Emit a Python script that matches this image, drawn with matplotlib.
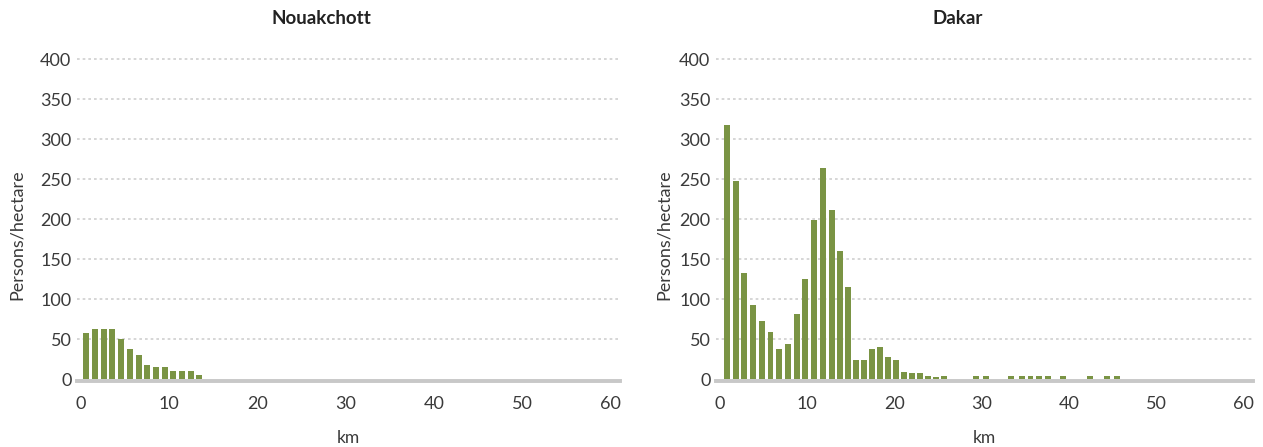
import matplotlib.pyplot as plt

plt.rcParams['font.family'] = ['Lato', 'DejaVu Sans']

# distance from centre (km) and density (persons/hectare)
nouak_km = [0.6, 1.6, 2.6, 3.5, 4.5, 5.6, 6.6, 7.5, 8.5, 9.5, 10.4, 11.5, 12.5, 13.4]
nouak_density = [58, 63, 63, 63, 50, 38, 30, 18, 15, 15, 10, 10, 10, 5]

dakar_km = [0.8, 1.8, 2.8, 3.8, 4.8, 5.8, 6.8, 7.8, 8.8, 9.8, 10.8, 11.8, 12.8,
            13.8, 14.7, 15.6, 16.5, 17.4, 18.4, 19.3, 20.2, 21.1, 22.0, 22.9,
            23.9, 24.8, 25.7, 29.4, 30.5, 33.4, 34.6, 35.6, 36.6, 37.6, 39.3,
            42.4, 44.4, 45.5]
dakar_density = [317, 248, 132, 92, 73, 59, 37, 44, 81, 125, 199, 264, 211,
                 160, 115, 24, 24, 37, 40, 28, 24, 9, 8, 8,
                 4, 3, 4, 4, 4, 4, 4, 4, 4, 4, 4,
                 4, 4, 4]

titles = ["Nouakchott", "Dakar"]
y_ticks = [0, 50, 100, 150, 200, 250, 300, 350, 400]
x_ticks = [0, 10, 20, 30, 40, 50, 60]

BAR_COLOR = "#7a9444"
GRID_COLOR = "#cfcfcf"
TEXT_COLOR = "#3a3a3a"

fig = plt.figure(figsize=(12.63, 4.47), dpi=100)
ax1 = fig.add_axes([77 / 1263, 68 / 447, 543 / 1263, 320 / 447])
ax2 = fig.add_axes([716 / 1263, 68 / 447, 537 / 1263, 320 / 447])

panels = [(ax1, nouak_km, nouak_density, -0.096), (ax2, dakar_km, dakar_density, -0.082)]
for ax, km, dens, ylab_x in panels:
    for y in y_ticks[1:]:
        ax.axhline(y, color=GRID_COLOR, lw=1.2, ls=(0, (1.6, 1.8)), zorder=0, clip_on=False)
    ax.axhline(-1.9, color="#c8c8c8", lw=2.8, zorder=1, clip_on=False)
    ax.bar(km, dens, width=0.68, color=BAR_COLOR, zorder=2)

    ax.set_xlim(-0.45, 61.1)
    ax.set_ylim(0, 400)
    ax.set_xticks(x_ticks)
    ax.set_yticks(y_ticks)
    ax.tick_params(length=0, labelsize=13, labelcolor=TEXT_COLOR, pad=4)
    ax.tick_params(axis="x", pad=12)
    for s in ax.spines.values():
        s.set_visible(False)

    ax.set_xlabel("km", fontsize=12.5, color=TEXT_COLOR, labelpad=13)
    ax.set_ylabel("Persons/hectare", fontsize=13, color=TEXT_COLOR)
    ax.yaxis.set_label_coords(ylab_x, 0.45)

fig.text(321 / 1263, 1 - 19 / 447, titles[0], ha="center", va="center",
         fontsize=13.5, fontweight="bold", color="#222222")
fig.text(958 / 1263, 1 - 19 / 447, titles[1], ha="center", va="center",
         fontsize=13.5, fontweight="bold", color="#222222")

fig.savefig("out.png", dpi=100)
